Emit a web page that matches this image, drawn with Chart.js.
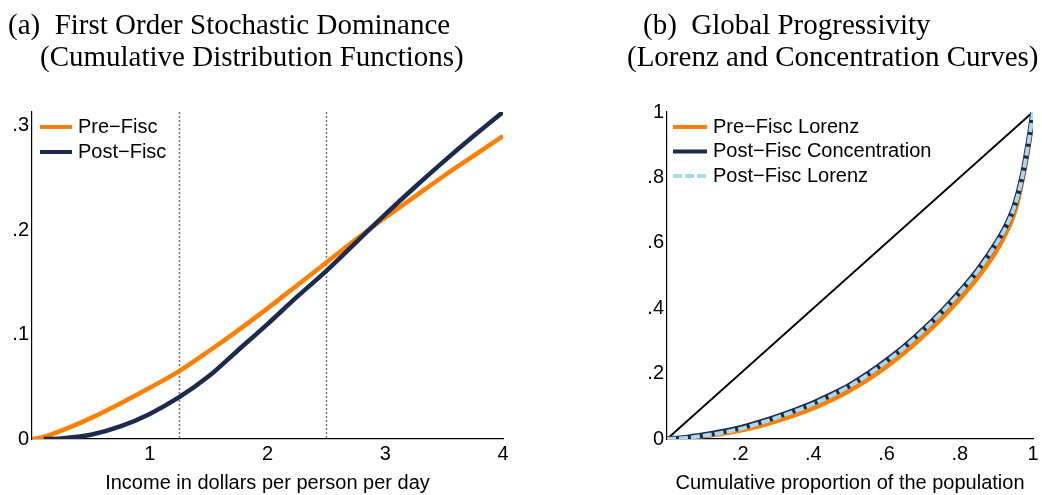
<!DOCTYPE html>
<html>
<head>
<meta charset="utf-8">
<script src="https://cdn.jsdelivr.net/npm/chart.js@4.4.1/dist/chart.umd.min.js"></script>
<style>
  html, body { margin: 0; padding: 0; background: #fff; }
  #wrap { position: relative; width: 1042px; height: 495px; overflow: hidden; background: #fff; }
  #wrap canvas { position: absolute; top: 0; }
  .ttl { position: absolute; font-family: "Liberation Serif", "Times New Roman", serif; font-size: 29px;
         line-height: 30px; white-space: pre; color: #000; }
</style>
</head>
<body>
<div id="wrap">
  <canvas id="cdf" width="520" height="495" style="left:0px"></canvas>
  <canvas id="lorenz" width="522" height="495" style="left:520px"></canvas>
  <div class="ttl" style="left:8px;top:9px">(a)  First Order Stochastic Dominance</div>
  <div class="ttl" style="left:40px;top:41px">(Cumulative Distribution Functions)</div>
  <div class="ttl" style="left:643px;top:9px">(b)  Global Progressivity</div>
  <div class="ttl" style="left:627px;top:41px">(Lorenz and Concentration Curves)</div>
</div>
<script>
// ---- Panel (a): cumulative distribution of income ----
const incomeGrid  = [0, 0.1, 0.25, 0.5, 0.75, 1, 1.25, 1.5, 1.75, 2, 2.25, 2.5, 2.75, 3, 3.25, 3.5, 3.75, 4];
const preFiscCdf  = [0, 0.002, 0.008, 0.020, 0.034, 0.049, 0.065, 0.084, 0.104, 0.125, 0.147, 0.169, 0.191, 0.212, 0.232, 0.252, 0.271, 0.290];
const postFiscCdf = [null, 0, 0.0005, 0.004, 0.012, 0.024, 0.040, 0.060, 0.085, 0.110, 0.136, 0.161, 0.188, 0.215, 0.241, 0.266, 0.290, 0.313];
const povertyLines = [1.25, 2.5];
const cdfXTicks = [1, 2, 3, 4];
const cdfYTicks = [0, 0.1, 0.2, 0.3];

// ---- Panel (b): Lorenz and concentration curves ----
const popShare       = [0, 0.05, 0.1, 0.15, 0.2, 0.25, 0.3, 0.35, 0.4, 0.45, 0.5, 0.55, 0.6, 0.65, 0.7, 0.75, 0.8, 0.85, 0.9, 0.93, 0.95, 0.97, 0.985, 0.995, 1];
const preFiscLorenz  = [0, 0.003, 0.009, 0.016, 0.026, 0.039, 0.055, 0.073, 0.094, 0.119, 0.148, 0.182, 0.221, 0.265, 0.314, 0.368, 0.428, 0.495, 0.575, 0.638, 0.693, 0.785, 0.875, 0.950, 1];
const postFiscConc   = [0, 0.004, 0.012, 0.022, 0.034, 0.050, 0.068, 0.088, 0.110, 0.136, 0.165, 0.200, 0.240, 0.284, 0.334, 0.389, 0.450, 0.518, 0.600, 0.660, 0.715, 0.800, 0.890, 0.960, 1];
const postFiscLorenz = [0, 0.003, 0.010, 0.019, 0.031, 0.047, 0.065, 0.085, 0.107, 0.133, 0.162, 0.197, 0.237, 0.281, 0.331, 0.386, 0.447, 0.515, 0.597, 0.657, 0.712, 0.797, 0.887, 0.958, 1];
const equalityX = [0, 1];
const equalityY = [0, 1];
const lorenzXTicks = [0.2, 0.4, 0.6, 0.8, 1];
const lorenzYTicks = [0, 0.2, 0.4, 0.6, 0.8, 1];

const ORANGE = '#ff8000';
const NAVY = '#1c2a4e';
const LIGHTBLUE = '#add8e6';
const SANS = '"Liberation Sans", Arial, Helvetica, sans-serif';

const toPoints = (xs, ys) => xs.map((x, i) => ({ x, y: ys[i] }));

// Stata-style numeric labels: .1, .2, ... with no leading zero
function stataLabel(v) {
  const r = Math.round(v * 10) / 10;
  return String(r).replace(/^0\./, '.');
}

function axisTicks(values) {
  return (axis) => { axis.ticks = values.map(v => ({ value: v })); };
}

// Vertical dotted reference lines
const refLines = {
  id: 'refLines',
  beforeDatasetsDraw(chart, args, opts) {
    if (!opts.values) return;
    const { ctx, chartArea } = chart;
    const xs = chart.scales.x;
    ctx.save();
    ctx.strokeStyle = '#6e6e6e';
    ctx.lineWidth = 1.4;
    ctx.setLineDash([2, 2]);
    opts.values.forEach(v => {
      const px = Math.round(xs.getPixelForValue(v)) + 0.5;
      ctx.beginPath();
      ctx.moveTo(px, chartArea.top);
      ctx.lineTo(px, chartArea.bottom);
      ctx.stroke();
    });
    ctx.restore();
  }
};

// Legend drawn inside the plot region
const innerLegend = {
  id: 'innerLegend',
  afterDraw(chart, args, opts) {
    const { ctx } = chart;
    ctx.save();
    ctx.font = '20px ' + SANS;
    ctx.textBaseline = 'middle';
    ctx.fillStyle = '#000';
    opts.items.forEach((idx, row) => {
      const ds = chart.data.datasets[idx];
      const y = opts.y + row * opts.rowGap;
      ctx.save();
      ctx.strokeStyle = ds.borderColor;
      ctx.lineWidth = 4;
      ctx.setLineDash(ds.borderDash || []);
      ctx.beginPath();
      ctx.moveTo(opts.x, y);
      ctx.lineTo(opts.x + opts.sample, y);
      ctx.stroke();
      ctx.restore();
      ctx.fillText(ds.label, opts.x + opts.sample + opts.gap, y);
    });
    ctx.restore();
  }
};

function baseScale(min, max, tickVals, title, fitProp, fitVal, hideZero) {
  return {
    type: 'linear',
    min, max,
    afterBuildTicks: axisTicks(tickVals),
    afterFit: (s) => { s[fitProp] = fitVal; },
    grid: { display: false, drawTicks: false },
    border: { display: true, color: '#000', width: 1.2 },
    ticks: {
      autoSkip: false, maxRotation: 0, minRotation: 0,
      color: '#000', padding: 3,
      font: { family: SANS, size: 20 },
      callback: (v) => (hideZero && v === 0) ? '' : stataLabel(v)
    },
    title: title ? {
      display: true, text: title, color: '#000',
      font: { family: SANS, size: 20 }, padding: { top: 0, bottom: 0 }
    } : { display: false }
  };
}

new Chart(document.getElementById('cdf'), {
  type: 'line',
  data: {
    datasets: [
      { label: 'Pre\u2212Fisc', data: toPoints(incomeGrid, preFiscCdf), borderColor: ORANGE, borderWidth: 4.5,
        pointRadius: 0, cubicInterpolationMode: 'monotone', order: 2 },
      { label: 'Post\u2212Fisc', data: toPoints(incomeGrid, postFiscCdf), borderColor: NAVY, borderWidth: 4.5,
        pointRadius: 0, cubicInterpolationMode: 'monotone', order: 1 }
    ]
  },
  options: {
    responsive: false, animation: false, devicePixelRatio: 1,
    layout: { padding: { left: 0, right: 17, top: 112, bottom: 0 } },
    scales: {
      x: baseScale(0, 4, cdfXTicks, 'Income in dollars per person per day', 'height', 56, true),
      y: baseScale(0, 0.313, cdfYTicks, null, 'width', 32, false)
    },
    plugins: {
      legend: { display: false }, tooltip: { enabled: false },
      refLines: { values: povertyLines },
      innerLegend: { items: [0, 1], x: 40, y: 127, rowGap: 25, sample: 32, gap: 6 }
    }
  },
  plugins: [refLines, innerLegend]
});

new Chart(document.getElementById('lorenz'), {
  type: 'line',
  data: {
    datasets: [
      { label: 'Pre\u2212Fisc Lorenz', data: toPoints(popShare, preFiscLorenz), borderColor: ORANGE, borderWidth: 4.5,
        pointRadius: 0, cubicInterpolationMode: 'monotone', order: 4 },
      { label: 'Post\u2212Fisc Concentration', data: toPoints(popShare, postFiscConc), borderColor: NAVY, borderWidth: 5.5,
        pointRadius: 0, cubicInterpolationMode: 'monotone', order: 3 },
      { label: 'Post\u2212Fisc Lorenz', data: toPoints(popShare, postFiscLorenz), borderColor: LIGHTBLUE, borderWidth: 4,
        borderDash: [9, 3], pointRadius: 0, cubicInterpolationMode: 'monotone', order: 2 },
      { label: '', data: toPoints(equalityX, equalityY), borderColor: '#000', borderWidth: 2,
        pointRadius: 0, order: 5 }
    ]
  },
  options: {
    responsive: false, animation: false, devicePixelRatio: 1,
    layout: { padding: { left: 0, right: 9, top: 112, bottom: 0 } },
    scales: {
      x: baseScale(0, 1, lorenzXTicks, 'Cumulative proportion of the population', 'height', 56, true),
      y: baseScale(0, 1, lorenzYTicks, null, 'width', 147, false)
    },
    plugins: {
      legend: { display: false }, tooltip: { enabled: false },
      innerLegend: { items: [0, 1, 2], x: 153, y: 127, rowGap: 24.5, sample: 34, gap: 6 }
    }
  },
  plugins: [innerLegend]
});
</script>
</body>
</html>
